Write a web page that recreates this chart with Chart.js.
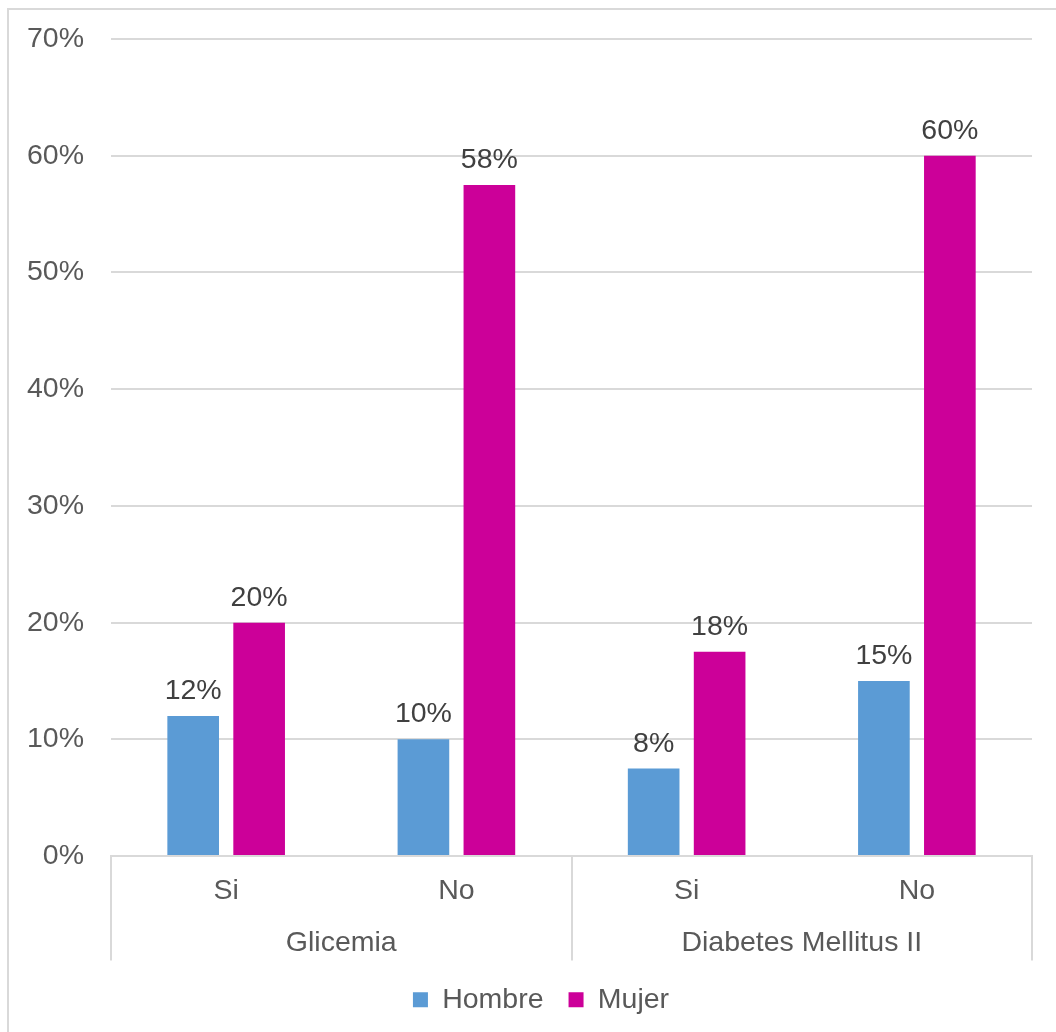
<!DOCTYPE html>
<html>
<head>
<meta charset="utf-8">
<script src="https://cdn.jsdelivr.net/npm/chart.js@4/dist/chart.umd.min.js"></script>
<style>
  html, body { margin: 0; padding: 0; background: #fff; overflow: hidden; }
  #wrap { position: relative; width: 1056px; height: 1032px; }
  #frame { position: absolute; left: 7px; top: 8px; width: 1100px; height: 1100px;
           border: 2px solid #d9d9d9; box-sizing: border-box; }
  canvas { position: absolute; left: 0; top: 0; }
</style>
</head>
<body>
<div id="wrap">
  <div id="frame"></div>
  <canvas id="chart" width="1056" height="1032"></canvas>
</div>
<script>
// Subcategories (inner axis level) and their groups (outer axis level)
const categories = ['Si', 'No', 'Si', 'No'];
const groups = ['Glicemia', 'Diabetes Mellitus II'];

// Percentages per sex
const hombre = [12, 10, 7.5, 15];
const mujer = [20, 57.5, 17.5, 60];

// Value axis ticks
const yTicks = [0, 10, 20, 30, 40, 50, 60, 70];

const FONT = "'Liberation Sans', Arial, sans-serif";
const FONT_SIZE = 28.5;
const AXIS_TEXT = '#595959';
const GRID = '#d9d9d9';

// Draws the percentage above each bar
const barValueLabels = {
  id: 'barValueLabels',
  afterDatasetsDraw(chart) {
    const ctx = chart.ctx;
    ctx.save();
    ctx.font = FONT_SIZE + 'px ' + FONT;
    ctx.fillStyle = '#404040';
    ctx.textAlign = 'center';
    ctx.textBaseline = 'alphabetic';
    chart.data.datasets.forEach((ds, di) => {
      const meta = chart.getDatasetMeta(di);
      meta.data.forEach((bar, i) => {
        ctx.fillText(Math.round(ds.data[i]) + '%', bar.x, bar.y - 17);
      });
    });
    ctx.restore();
  }
};

// Vertical dividers between the outer groups of the category axis
const groupDividers = {
  id: 'groupDividers',
  afterDraw(chart) {
    const g = chart.scales.xGroup;
    const x = chart.scales.x;
    const ctx = chart.ctx;
    ctx.save();
    ctx.strokeStyle = GRID;
    ctx.lineWidth = 2;
    for (let i = 0; i <= groups.length; i++) {
      const px = Math.round(g.getPixelForValue(i - 0.5));
      ctx.beginPath();
      ctx.moveTo(px, x.top);
      ctx.lineTo(px, g.bottom);
      ctx.stroke();
    }
    ctx.restore();
  }
};

// Nudges the legend row a little to the right of the canvas centre
const legendShift = {
  id: 'legendShift',
  afterLayout(chart) {
    const lg = chart.legend;
    if (lg) { lg.left += 25; lg.right += 25; }
  }
};

new Chart(document.getElementById('chart'), {
  type: 'bar',
  data: {
    labels: categories,
    datasets: [
      { label: 'Hombre', data: hombre, backgroundColor: '#5b9bd5',
        categoryPercentage: 0.573, barPercentage: 0.783 },
      { label: 'Mujer', data: mujer, backgroundColor: '#cc0099',
        categoryPercentage: 0.573, barPercentage: 0.783 }
    ]
  },
  options: {
    responsive: false,
    animation: false,
    layout: { padding: { left: 0, right: 24, top: 39, bottom: 8 } },
    plugins: {
      tooltip: { enabled: false },
      legend: {
        position: 'bottom',
        labels: {
          boxWidth: 15, boxHeight: 15, padding: 25,
          color: AXIS_TEXT,
          font: { family: FONT, size: FONT_SIZE }
        }
      }
    },
    scales: {
      y: {
        min: 0, max: 70,
        afterBuildTicks(scale) { scale.ticks = yTicks.map(v => ({ value: v })); },
        afterFit(scale) {
          // only half a label of headroom above the top tick
          scale.paddingTop = 17;
        },
        ticks: {
          callback: v => v + '%',
          color: AXIS_TEXT, padding: 27,
          font: { family: FONT, size: FONT_SIZE }
        },
        grid: { color: GRID, lineWidth: 2, drawTicks: false },
        border: { display: false }
      },
      x: {
        position: 'bottom',
        grid: { display: false, drawTicks: false },
        border: { display: true, color: GRID, width: 2 },
        ticks: { color: AXIS_TEXT, padding: 18, font: { family: FONT, size: FONT_SIZE } }
      },
      xGroup: {
        type: 'category',
        labels: groups,
        position: 'bottom',
        offset: true,
        grid: { display: false, drawTicks: false },
        border: { display: false },
        ticks: { color: AXIS_TEXT, padding: 0, font: { family: FONT, size: FONT_SIZE } }
      }
    }
  },
  plugins: [barValueLabels, groupDividers, legendShift]
});
</script>
</body>
</html>
